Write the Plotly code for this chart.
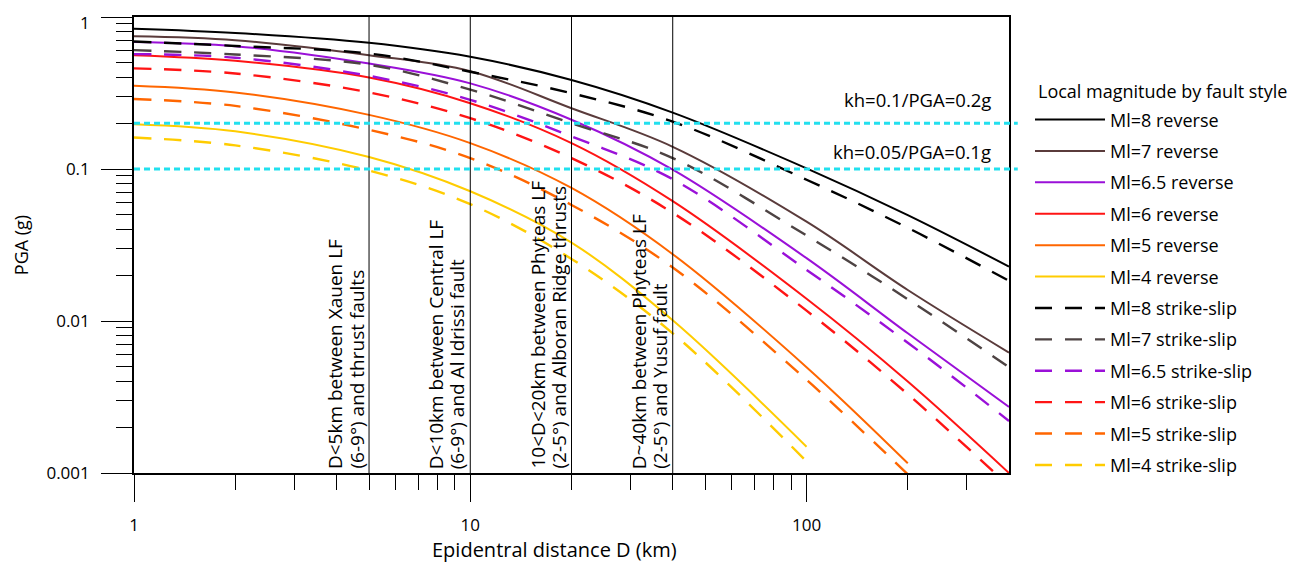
import plotly.graph_objects as go
import math

# ---------------- data ----------------
distance_km = [1, 2, 5, 10, 20, 40, 100, 200, 400]

series_names = ["Ml=8 reverse", "Ml=7 reverse", "Ml=6.5 reverse", "Ml=6 reverse",
                "Ml=5 reverse", "Ml=4 reverse",
                "Ml=8 strike-slip", "Ml=7 strike-slip", "Ml=6.5 strike-slip",
                "Ml=6 strike-slip", "Ml=5 strike-slip", "Ml=4 strike-slip"]

rev8 = [0.838, 0.786, 0.676, 0.547, 0.385, 0.235, 0.101, 0.0497, 0.0228]
rev7 = [0.747, 0.704, 0.561, 0.440, 0.251, 0.140, 0.0450, 0.0160, 0.0062]
rev65 = [0.686, 0.643, 0.494, 0.366, 0.211, 0.099, 0.0259, 0.0083, 0.00272]
rev6 = [0.561, 0.515, 0.400, 0.271, 0.148, 0.0614, 0.0140, 0.0040, 0.00100]
rev5 = [0.353, 0.319, 0.227, 0.148, 0.075, 0.0275, 0.00497, 0.00116]
rev4 = [0.197, 0.177, 0.120, 0.0714, 0.0328, 0.0101, 0.00149]

ss8 = [0.690, 0.645, 0.575, 0.436, 0.315, 0.205, 0.0850, 0.0410, 0.0184]
ss7 = [0.605, 0.567, 0.485, 0.333, 0.200, 0.118, 0.0365, 0.0139, 0.00497]
ss65 = [0.570, 0.540, 0.410, 0.285, 0.164, 0.0857, 0.0217, 0.0072, 0.0022]
ss6 = [0.459, 0.425, 0.319, 0.216, 0.118, 0.0515, 0.0117, 0.0033, 0.00082]
ss5 = [0.289, 0.260, 0.181, 0.118, 0.058, 0.0225, 0.0041, 0.00098]
ss4 = [0.161, 0.143, 0.0977, 0.0587, 0.0256, 0.0083, 0.00119]

series_values = [rev8, rev7, rev65, rev6, rev5, rev4, ss8, ss7, ss65, ss6, ss5, ss4]

threshold_pga = [0.2, 0.1]
threshold_labels = ["kh=0.1/PGA=0.2g", "kh=0.05/PGA=0.1g"]

fault_distances = [5, 10, 20, 40]
fault_label_line1 = ["D<5km between Xauen LF", "D<10km between Central LF",
                     "10<D<20km between Phyteas LF", "D~40km between Phyteas LF"]
fault_label_line2 = ["(6-9°) and thrust faults", "(6-9°) and Al Idrissi fault",
                     "(2-5°) and Alboran Ridge thrusts", "(2-5°) and Yusuf fault"]

y_tick_vals = [0.001, 0.01, 0.1, 1]
y_tick_text = ["0.001", "0.01", "0.1", "1"]
x_tick_vals = [1, 10, 100]
x_tick_text = ["1", "10", "100"]

legend_title = "Local magnitude by fault style"
x_title = "Epidentral distance D (km)"
y_title = "PGA (g)"

# ---------------- styles ----------------
colors = ["#000000", "#5a3b3b", "#9a10d8", "#ff1414", "#ff6600", "#ffcc00",
          "#000000", "#4d4343", "#9a10d8", "#ff1414", "#ff6600", "#ffcc00"]
FONT = "Open Sans"

fig = go.Figure()
for i, (name, vals) in enumerate(zip(series_names, series_values)):
    dashed = i >= 6
    fig.add_trace(go.Scatter(
        x=distance_km[:len(vals)], y=vals, mode="lines", name=name,
        legendgroup=str(i),
        line=dict(color=colors[i], width=2.4 if dashed else 2,
                  dash="17px,13px" if dashed else "solid",
                  shape="spline", smoothing=1.0),
    ))

shapes = []
for d in fault_distances:
    shapes.append(dict(type="line", xref="x", yref="paper", x0=d, x1=d, y0=0, y1=1,
                       line=dict(color="black", width=1)))
for p in threshold_pga:
    shapes.append(dict(type="line", xref="paper", yref="y", x0=0, x1=1.01,
                       y0=p, y1=p, line=dict(color="#22e0ee", width=3, dash="6px,4px")))

annotations = []
for d, l1, l2 in zip(fault_distances, fault_label_line1, fault_label_line2):
    for txt, shift in ((l1, -34), (l2, -13)):
        annotations.append(dict(x=math.log10(d), xref="x", y=0, yref="paper",
                                text=txt, textangle=-90, showarrow=False,
                                xanchor="center", yanchor="bottom",
                                xshift=shift, yshift=2,
                                font=dict(family=FONT, size=19, color="black")))
for p, txt, ys in zip(threshold_pga, threshold_labels, [9, 3]):
    annotations.append(dict(x=1, xref="paper", y=math.log10(p), yref="y",
                            text=txt, showarrow=False, xanchor="right",
                            yanchor="bottom", xshift=-16, yshift=ys,
                            font=dict(family=FONT, size=18.5, color="black")))
annotations.append(dict(x=0.481, xref="paper", y=0, yref="paper",
                        text=x_title, showarrow=False,
                        xanchor="center", yanchor="middle", yshift=-76,
                        font=dict(family=FONT, size=20, color="black")))
annotations.append(dict(x=1.031, xref="paper", y=0.838, yref="paper",
                        text=legend_title, showarrow=False,
                        xanchor="left", yanchor="middle",
                        font=dict(family=FONT, size=18, color="black")))
# top tick label ("1") sits at the very edge of the page, so it is drawn as a label
annotations.append(dict(x=0, xref="paper", y=math.log10(y_tick_vals[-1]), yref="y",
                        text=y_tick_text[-1], showarrow=False,
                        xanchor="right", yanchor="middle", xshift=-42, yshift=-5,
                        font=dict(family=FONT, size=17, color="black")))

x_minor = [k * 10 ** e for e in range(0, 3) for k in range(2, 10) if k * 10 ** e < 400]
y_minor = [k * 10 ** e for e in range(-3, 0) for k in range(2, 10)]

# page body has an 8px margin: figure is reduced so the plot lands where intended
fig.update_layout(
    width=1293, height=556,
    margin=dict(l=126, r=292, t=7, b=91),
    paper_bgcolor="white", plot_bgcolor="white",
    font=dict(family=FONT, size=16, color="black"),
    shapes=shapes, annotations=annotations,
    xaxis=dict(type="log", range=[0, math.log10(400)],
               tickmode="array", tickvals=x_tick_vals, ticktext=x_tick_text,
               ticks="outside", ticklen=27, tickwidth=1.3, tickcolor="black",
               ticklabelstandoff=9,
               minor=dict(tickmode="array", tickvals=x_minor, ticks="outside",
                          ticklen=15, tickwidth=1.3, tickcolor="black", showgrid=False),
               showline=True, linecolor="black", linewidth=1.6, mirror=True,
               showgrid=False, zeroline=False,
               tickfont=dict(family=FONT, size=17)),
    yaxis=dict(type="log", range=[-3, 0],
               tickmode="array", tickvals=y_tick_vals, ticktext=y_tick_text,
               ticks="outside", ticklen=31, tickwidth=1.3, tickcolor="black",
               ticklabelstandoff=8,
               minor=dict(tickmode="array", tickvals=y_minor, ticks="outside",
                          ticklen=16, tickwidth=1.3, tickcolor="black", showgrid=False),
               showline=True, linecolor="black", linewidth=1.6, mirror=True,
               showgrid=False, zeroline=False,
               tickfont=dict(family=FONT, size=17),
               title=dict(text=y_title, standoff=13, font=dict(family=FONT, size=18))),
    legend=dict(x=1.024, y=0.815, xanchor="left", yanchor="top",
                font=dict(family=FONT, size=18), itemwidth=70,
                tracegroupgap=5, bgcolor="rgba(0,0,0,0)"),
)

fig.write_html("out.html")
